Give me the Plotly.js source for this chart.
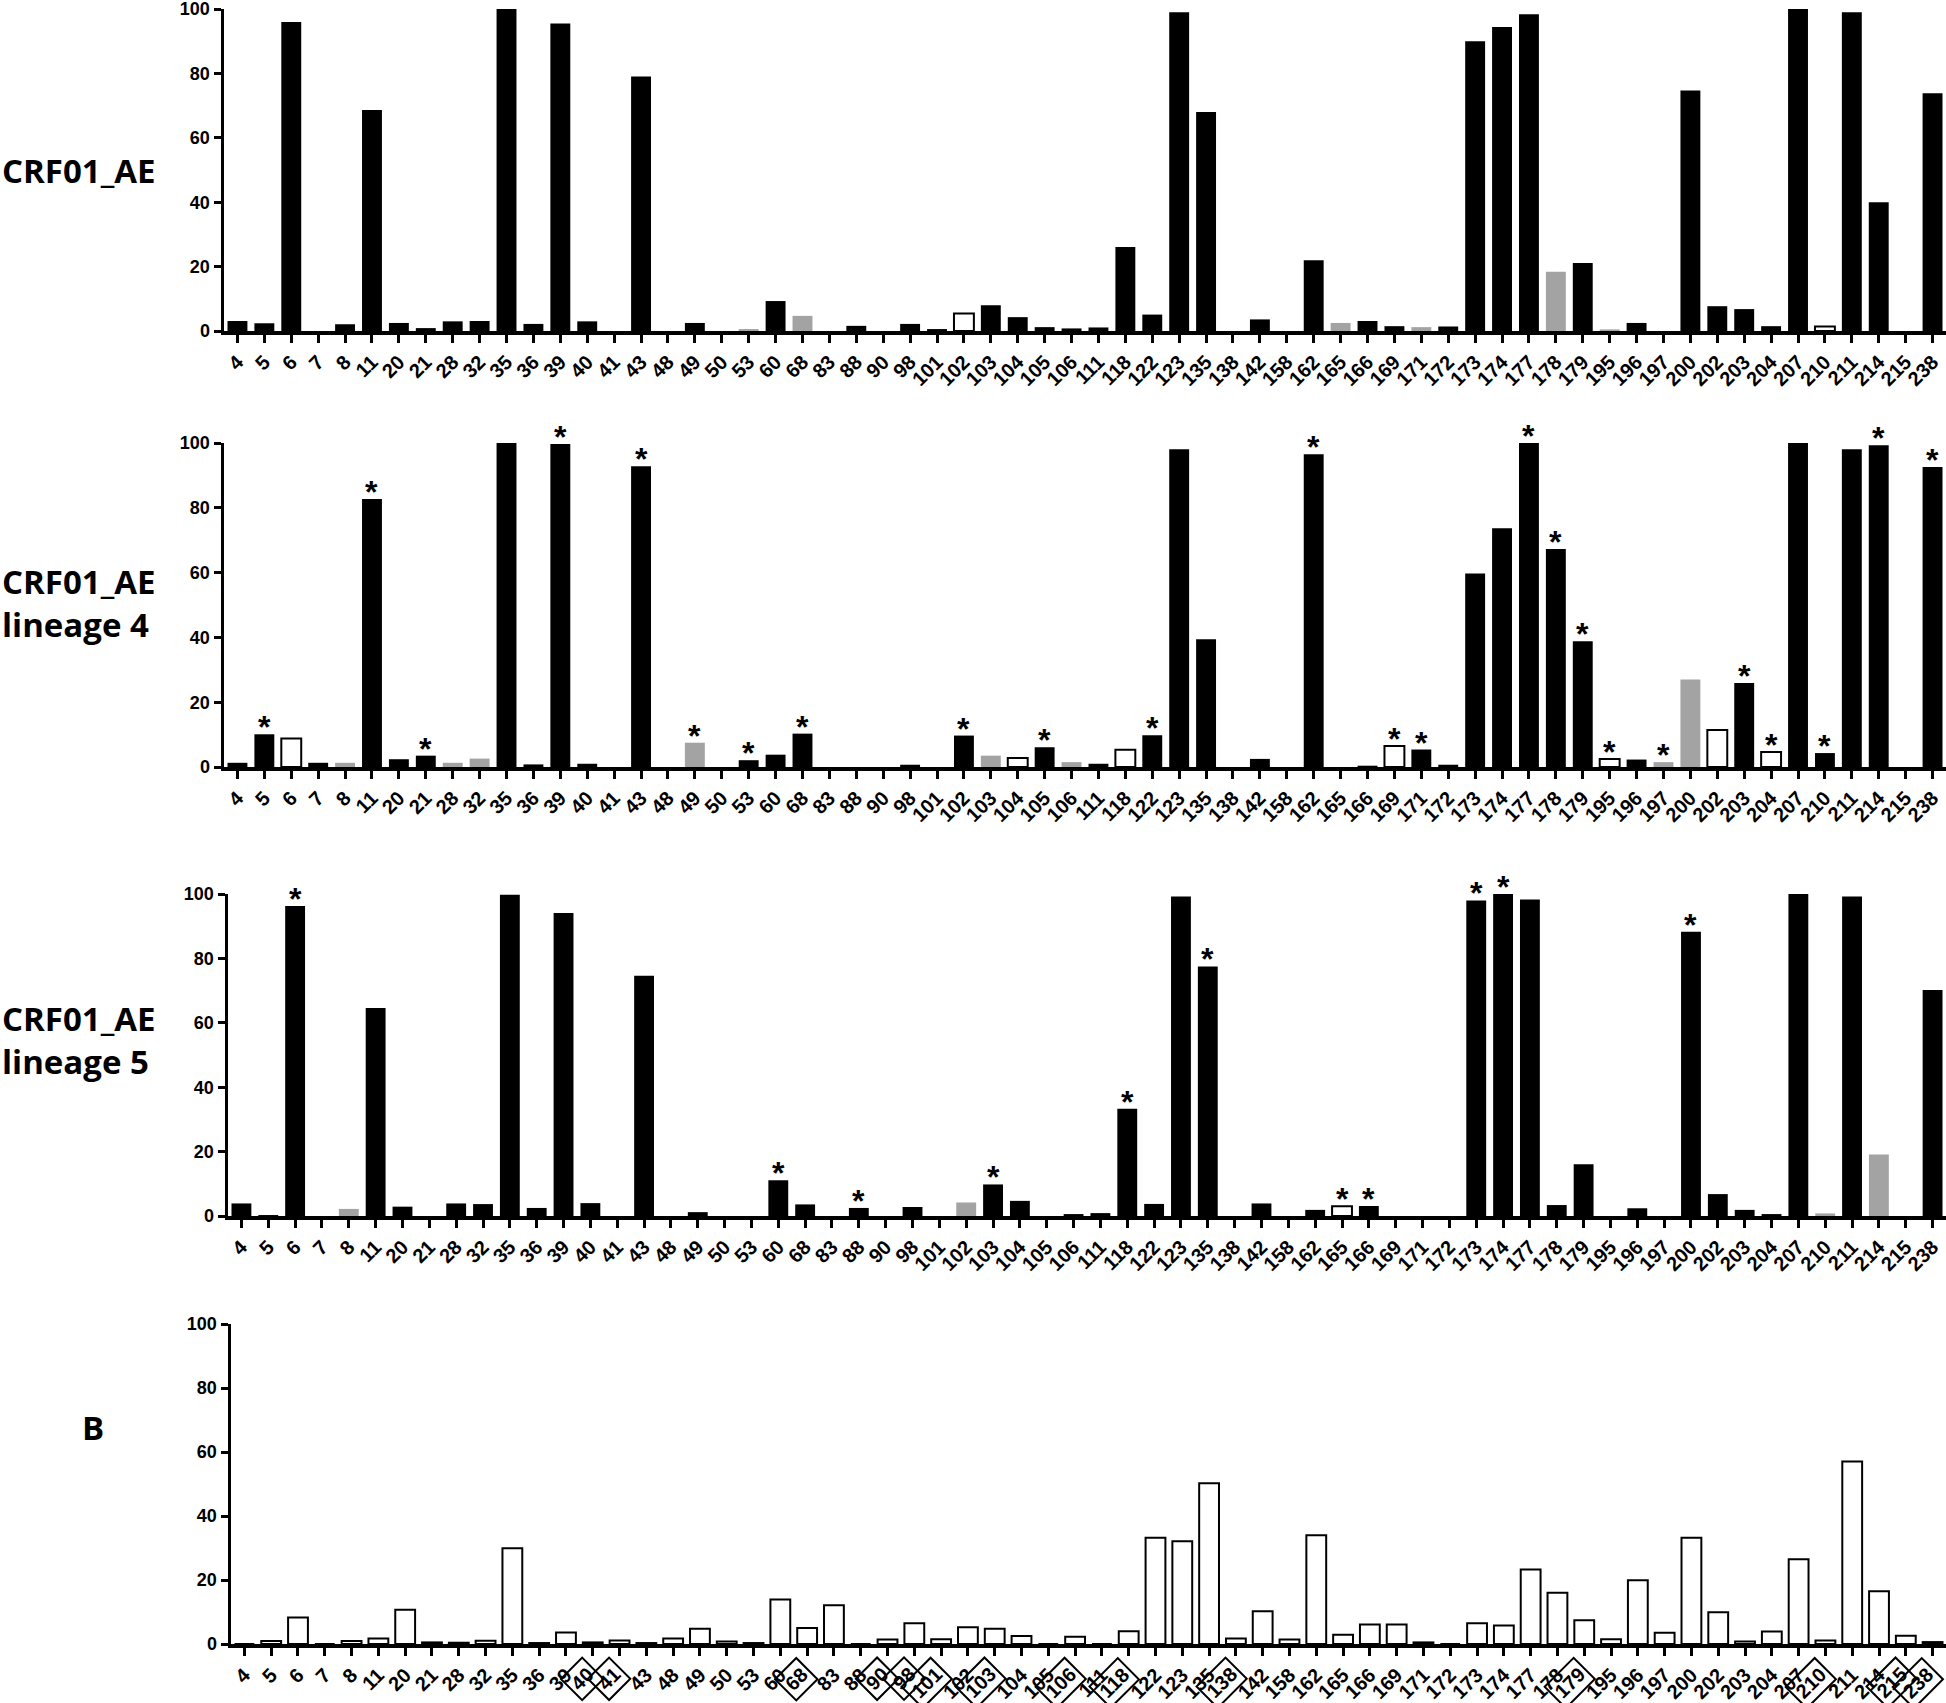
<!DOCTYPE html>
<html>
<head>
<meta charset="utf-8">
<script src="https://cdn.plot.ly/plotly-3.0.1.min.js"></script>
<style>html,body{margin:0;padding:0;background:#fff;}#chart{width:1946px;height:1703px;}</style>
</head>
<body>
<div id="chart"></div>
<script>
// ---------------- DATA ----------------
const categories = ["4","5","6","7","8","11","20","21","28","32","35","36","39","40","41","43","48","49","50","53","60","68","83","88","90","98","101","102","103","104","105","106","111","118","122","123","135","138","142","158","162","165","166","169","171","172","173","174","177","178","179","195","196","197","200","202","203","204","207","210","211","214","215","238"];

// Panel 1: CRF01_AE
const p1Values = [3.1,2.4,96,0,2.1,68.6,2.5,0.9,3.0,3.1,100,2.2,95.5,3.0,0,79,0,2.5,0,0.6,9.3,4.7,0,1.6,0,2.2,0.6,5.4,8.0,4.3,1.2,0.8,1.1,26.1,5.1,99,68,0,3.6,0,22,2.5,3.1,1.5,1.2,1.4,90,94.4,98.4,18.4,21.1,0.5,2.5,0,74.7,7.7,6.8,1.5,100,1.4,99,40,0,73.8];
const p1Grey = ["53","68","165","171","178","195"];
const p1White = ["102","210"];
const p1Stars = [];

// Panel 2: CRF01_AE lineage 4
const p2Values = [1.3,10.1,8.8,1.3,1.3,82.7,2.4,3.5,1.3,2.6,100,0.8,99.7,1.0,0,92.8,0,7.5,0,2.1,3.8,10.3,0,0,0,0.7,0,9.7,3.5,2.8,6.1,1.5,1.0,5.3,9.8,98.1,39.4,0,2.5,0,96.5,0,0.4,6.5,5.4,0.7,59.7,73.7,100,67.3,38.8,2.5,2.3,1.5,27,11.4,25.9,4.6,100,4.3,98.1,99.3,0,92.6];
const p2Grey = ["8","28","32","49","103","106","197","200"];
const p2White = ["6","104","118","169","195","202","204"];
const p2Stars = ["5","11","21","39","43","49","53","68","102","105","122","162","169","171","177","178","179","195","197","203","204","210","214","238"];

// Panel 3: CRF01_AE lineage 5
const p3Values = [3.9,0.3,96.3,0,2.2,64.6,2.9,0,3.9,3.7,99.8,2.5,94.1,4.0,0,74.6,0,1.2,0,0,11.1,3.6,0,2.5,0,2.8,0,4.2,9.8,4.7,0,0.6,0.9,33.3,3.75,99.2,77.5,0,3.9,0,1.9,3.0,3.1,0,0,0,98,100,98.3,3.4,16.1,0,2.4,0,88.3,6.8,1.9,0.6,100,0.8,99.2,19.1,0,70.2];
const p3Grey = ["8","102","210","214"];
const p3White = ["165"];
const p3Stars = ["6","60","88","103","118","135","165","166","173","174","200"];

// Panel 4: B
const p4Values = [0,0.9,8.3,0,0.9,1.7,10.7,0.5,0.4,1.0,29.9,0.3,3.6,0.5,1.1,0.3,1.7,4.8,0.8,0.3,13.9,5.0,12.1,0,1.4,6.5,1.5,5.2,4.8,2.5,0,2.3,0,4.0,33.2,32.1,50.2,1.7,10.2,1.4,34.0,2.9,6.1,6.1,0.5,0,6.5,5.8,23.3,16.0,7.4,1.5,19.9,3.5,33.2,9.9,0.8,3.9,26.5,1.1,57,16.5,2.6,0.6];
const p4Boxed = ["40","41","68","90","98","101","103","106","118","138","179","210","215","238"];

const yTicks = [0,20,40,60,80,100];
const panelTitles = ["CRF01_AE","CRF01_AE<br>lineage 4","CRF01_AE<br>lineage 5","B"];

// ---------------- LAYOUT HELPERS ----------------
const H = 1703, W = 1946;
const py = v => 1 - v / H;
const panels = [
  {vals:p1Values, grey:p1Grey, white:p1White, stars:p1Stars, top:9,   bot:331,  left:224, allWhite:false},
  {vals:p2Values, grey:p2Grey, white:p2White, stars:p2Stars, top:443, bot:767,  left:224, allWhite:false},
  {vals:p3Values, grey:p3Grey, white:p3White, stars:p3Stars, top:894, bot:1216, left:228, allWhite:false},
  {vals:p4Values, grey:[],     white:[],      stars:[],      top:1324,bot:1644, left:231, allWhite:true}
];

const xTickFont = {family:"Liberation Sans, Arial, sans-serif", size:20, color:"#000", weight:700};
const yTickFont = {family:"Liberation Sans, Arial, sans-serif", size:18, color:"#000", weight:700};
const traces = [];
const annotations = [];
const layout = {
  width:W, height:H, margin:{l:0,r:0,t:0,b:0},
  paper_bgcolor:"#fff", plot_bgcolor:"rgba(0,0,0,0)",
  showlegend:false, bargap:0.26, annotations:annotations
};

panels.forEach((p, i) => {
  const n = i + 1;
  const xa = n === 1 ? "xaxis" : "xaxis" + n;
  const ya = n === 1 ? "yaxis" : "yaxis" + n;
  const xr = n === 1 ? "x" : "x" + n;
  const yr = n === 1 ? "y" : "y" + n;

  const fill = [], lineC = [], lineW = [];
  categories.forEach(c => {
    if (p.allWhite || p.white.includes(c)) { fill.push("#ffffff"); lineC.push("#000"); lineW.push(2); }
    else if (p.grey.includes(c)) { fill.push("#a3a3a3"); lineC.push("#a3a3a3"); lineW.push(0); }
    else { fill.push("#000000"); lineC.push("#000"); lineW.push(0); }
  });

  traces.push({
    type:"bar", x:categories, y:p.vals, xaxis:xr, yaxis:yr,
    marker:{color:fill, line:{color:lineC, width:lineW}},
    hoverinfo:"x+y"
  });

  let ticktext = categories.slice();
  if (n === 4) ticktext = categories.map(c => p4Boxed.includes(c) ? "" : c);

  layout[xa] = {
    domain:[p.left / W, 1], anchor:yr, type:"category",
    categoryorder:"array", categoryarray:categories,
    tickmode:"array", tickvals:categories, ticktext:ticktext,
    range:[-0.5, 63.5], tickangle:-45, ticklabeloverflow:"allow",
    ticks:"outside", ticklen:8, tickwidth:3, tickcolor:"#000",
    showline:true, linewidth:3.5, linecolor:"#000",
    showgrid:false, zeroline:false, tickfont:xTickFont, fixedrange:true
  };
  layout[ya] = {
    domain:[py(p.bot), py(p.top)], anchor:xr, range:[0, 100],
    tickmode:"array", tickvals:yTicks, ticklabeloverflow:"allow",
    ticks:"outside", ticklen:7, tickwidth:3, tickcolor:"#000",
    showline:true, linewidth:3.5, linecolor:"#000",
    showgrid:false, zeroline:false, tickfont:yTickFont, fixedrange:true
  };

  // significance stars
  p.stars.forEach(c => {
    const idx = categories.indexOf(c);
    annotations.push({
      x:idx, y:p.vals[idx], xref:xr, yref:yr, text:"*", showarrow:false,
      xanchor:"center", yanchor:"middle", yshift:7,
      font:{family:"Liberation Sans, Arial, sans-serif", size:32, color:"#000", weight:700}
    });
  });

  // row title
  annotations.push({
    x:(n === 4 ? 93 : 0) / W, xref:"paper",
    y:[0.8996, 0.6459, 0.3893, 0.1615][i], yref:"paper",
    text:panelTitles[i], showarrow:false, align:"left",
    xanchor:(n === 4 ? "center" : "left"), yanchor:"middle",
    font:{family:"Open Sans, Noto Sans, sans-serif", size:33, color:"#000", weight:700}
  });
});

// boxed (diamond) tick labels for panel B
p4Boxed.forEach(c => {
  const L = c.length * 11;
  annotations.push({
    x:categories.indexOf(c), xref:"x4", y:0, yref:"y4", text:c, showarrow:false,
    xanchor:"center", yanchor:"middle", textangle:-45,
    xshift:-(0.354 * L + 3), yshift:-(0.354 * L + 27),
    bordercolor:"#000", borderwidth:2, borderpad:3,
    font:xTickFont
  });
});

Plotly.newPlot("chart", traces, layout, {staticPlot:true, displayModeBar:false});
</script>
</body>
</html>
